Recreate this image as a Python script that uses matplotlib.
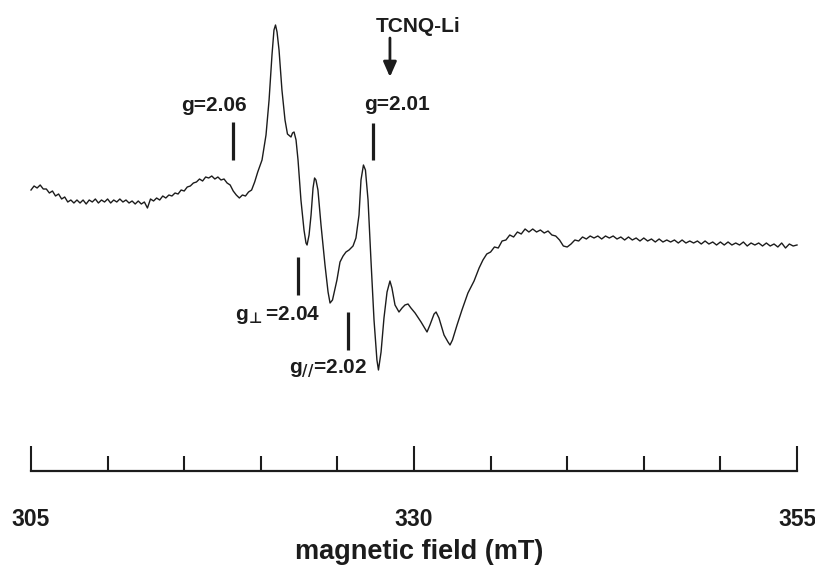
import matplotlib
matplotlib.use("Agg")
import matplotlib.pyplot as plt

plt.rcParams['font.family'] = ['Liberation Sans', 'DejaVu Sans']
plt.rcParams['font.weight'] = 'bold'

# EPR spectrum, field in mT, signal in arbitrary units
field_mT = [
    305.0, 305.2, 305.4, 305.6, 305.8, 306.0, 306.2, 306.4, 306.6, 306.8,
    307.0, 307.2, 307.4, 307.6, 307.8, 308.0, 308.2, 308.4, 308.6, 308.8,
    309.0, 309.2, 309.4, 309.6, 309.8, 310.0, 310.2, 310.4, 310.6, 310.8,
    311.0, 311.2, 311.4, 311.6, 311.8, 312.0, 312.2, 312.4, 312.6, 312.8,
    313.0, 313.2, 313.4, 313.6, 313.8, 314.0, 314.2, 314.4, 314.6, 314.8,
    315.0, 315.2, 315.4, 315.6, 315.8, 316.0, 316.2, 316.4, 316.6, 316.8,
    317.0, 317.2, 317.4, 317.6, 317.8, 318.0, 318.2, 318.4, 318.6, 318.8,
    319.0, 319.2, 319.4, 319.6, 319.8,
    320.08, 320.34, 320.54, 320.73, 320.86, 320.96, 321.06, 321.19, 321.38, 321.58,
    321.74, 321.97, 322.07, 322.17, 322.30, 322.43, 322.62, 322.82, 322.95, 323.02,
    323.15, 323.28, 323.41, 323.51, 323.60, 323.73, 323.93, 324.19, 324.39, 324.52,
    324.68, 324.97, 325.17, 325.37, 325.56, 325.76, 326.02, 326.21, 326.41, 326.54,
    326.70, 326.83, 327.00, 327.19, 327.39, 327.58, 327.68, 327.85, 328.04, 328.24,
    328.43, 328.56, 328.76, 329.02, 329.22, 329.41, 329.61, 329.80, 330.07, 330.46,
    330.85, 331.04, 331.31, 331.44, 331.63, 331.96, 332.22, 332.35, 332.51, 332.81,
    333.13, 333.52,
    333.92, 334.25, 334.5, 334.75, 335.0, 335.25, 335.5, 335.75, 336.0, 336.25,
    336.5, 336.75, 337.0, 337.25, 337.5, 337.75, 338.0, 338.25, 338.5, 338.75,
    339.0, 339.25, 339.5, 339.75, 340.0, 340.25, 340.5, 340.75, 341.0, 341.25,
    341.5, 341.75, 342.0, 342.25, 342.5, 342.75, 343.0, 343.25, 343.5, 343.75,
    344.0, 344.25, 344.5, 344.75, 345.0, 345.25, 345.5, 345.75, 346.0, 346.25,
    346.5, 346.75, 347.0, 347.25, 347.5, 347.75, 348.0, 348.25, 348.5, 348.75,
    349.0, 349.25, 349.5, 349.75, 350.0, 350.25, 350.5, 350.75, 351.0, 351.25,
    351.5, 351.75, 352.0, 352.25, 352.5, 352.75, 353.0, 353.25, 353.5, 353.75,
    354.0, 354.25, 354.5, 354.75, 355.0,
]
signal = [
    60, 64, 62, 65, 61, 61, 57, 59, 54, 56,
    51, 53, 48, 50, 47, 50, 47, 50, 46, 50,
    48, 51, 47, 50, 48, 51, 47, 50, 48, 51,
    48, 50, 47, 49, 46, 49, 46, 48, 42, 51,
    49, 52, 50, 54, 52, 55, 54, 57, 56, 60,
    59, 63, 64, 67, 68, 71, 69, 73, 72, 74,
    71, 73, 70, 71, 67, 65, 59, 55, 52, 55,
    54, 58, 60, 68, 78,
    90, 115, 150, 195, 220, 225, 218, 200, 160, 130,
    116, 113, 117, 118, 110, 90, 50, 20, 7, 5,
    15, 35, 62, 72, 70, 60, 25, -15, -42, -53,
    -50, -30, -12, -6, -2, 0, 4, 12, 35, 70,
    85, 80, 50, -10, -70, -110, -120, -102, -68, -42,
    -31, -38, -55, -62, -58, -55, -54, -58, -63, -72,
    -82, -75, -64, -62, -68, -85, -92, -95, -90, -75,
    -60, -43,
    -31, -18, -10, -4, -2, 3, 2, 9, 10, 15,
    13, 18, 16, 21, 18, 21, 18, 20, 17, 19,
    15, 14, 10, 4, 3, 6, 10, 9, 13, 11,
    14, 12, 14, 11, 14, 12, 14, 11, 13, 10,
    13, 10, 12, 9, 12, 9, 11, 8, 11, 8,
    10, 8, 10, 7, 10, 7, 9, 7, 9, 6,
    9, 6, 8, 5, 8, 5, 8, 5, 7, 5,
    8, 4, 7, 5, 7, 4, 7, 4, 6, 3,
    7, 2, 6, 4, 5,
]

# g-value markers: field position, bar top/bottom (signal units)
marker_field = [318.21, 322.43, 325.69, 327.32]
marker_top = [128, -7, -62, 127]
marker_bottom = [90, -45, -100, 90]

# labels: text, field, signal (baseline)
label_text = ['g=2.06', r'g$_{\!\bot}$=2.04', r'g$_{//}$=2.02', 'g=2.01', 'TCNQ-Li']
label_field = [316.95, 321.09, 324.42, 328.92, 330.29]
label_signal = [139, -70, -123, 140, 218]

arrow_field = 328.43
arrow_from, arrow_to = 212, 173

major_ticks = [305, 330, 355]
minor_ticks = [310, 315, 320, 325, 335, 340, 345, 350]

ink = '#1c1c1c'

fig = plt.figure(figsize=(8.15, 5.67), dpi=100)
ax = fig.add_axes([31 / 815, 96 / 567, 766 / 815, 471 / 567])

ax.plot(field_mT, signal, color=ink, lw=1.0, clip_on=False)

for f, t, b in zip(marker_field, marker_top, marker_bottom):
    ax.plot([f, f], [t, b], color=ink, lw=2.3, solid_capstyle='butt')

for txt, f, s in zip(label_text, label_field, label_signal):
    ax.text(f, s, txt, ha='center', va='baseline', fontsize=15,
            fontweight='bold', color=ink)

ax.annotate('', xy=(arrow_field, arrow_to), xytext=(arrow_field, arrow_from),
            arrowprops=dict(arrowstyle='-|>,head_length=0.5,head_width=0.22',
                            lw=2, color=ink, mutation_scale=18,
                            shrinkA=0, shrinkB=0))

ax.set_xlim(305, 355)
ax.set_ylim(-221, 250)

for side in ['left', 'right', 'top']:
    ax.spines[side].set_visible(False)
ax.spines['bottom'].set_linewidth(1.6)
ax.spines['bottom'].set_color(ink)
ax.set_yticks([])

ax.set_xticks(major_ticks)
ax.set_xticks(minor_ticks, minor=True)
ax.tick_params(axis='x', which='major', direction='in', length=18, width=1.5,
               pad=27, labelsize=16.5, color=ink, labelcolor=ink)
ax.tick_params(axis='x', which='minor', direction='in', length=10.5, width=1.5,
               color=ink)
for lab in ax.get_xticklabels():
    lab.set_fontweight('bold')

ax.set_xlabel('magnetic field (mT)', fontsize=19.5, fontweight='bold', color=ink)
ax.xaxis.set_label_coords(0.5065, -0.172)
ax.xaxis.label.set_va('center')

fig.savefig('out.png', dpi=100)
